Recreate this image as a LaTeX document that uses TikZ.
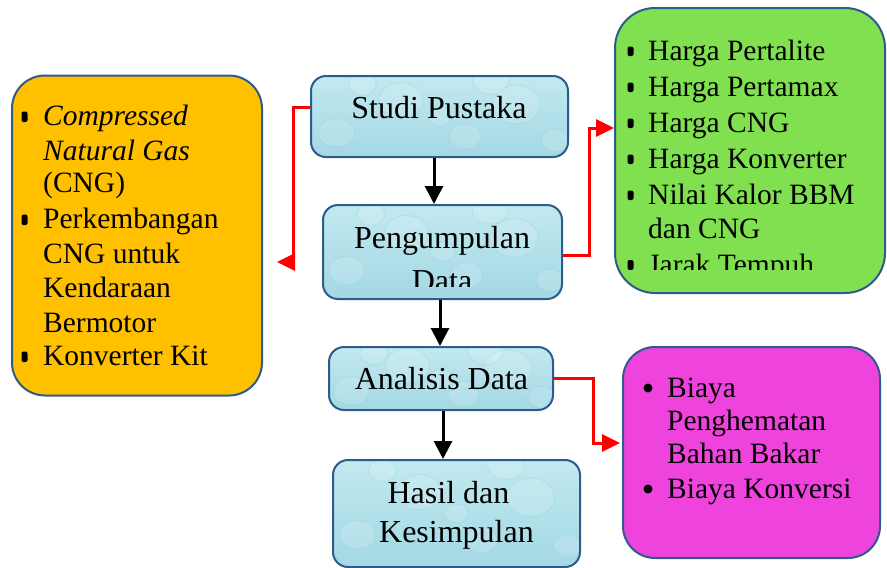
\documentclass[tikz,border=0pt]{standalone}
\usepackage{fontspec}
\setmainfont{Liberation Serif}
\usetikzlibrary{arrows.meta,calc}
\definecolor{bordc}{HTML}{2E5C8A}
\definecolor{orangef}{HTML}{FFC000}
\definecolor{greenf}{HTML}{80E050}
\definecolor{magf}{HTML}{EE44DD}
\definecolor{cyanA}{HTML}{C2E9F0}
\definecolor{cyanB}{HTML}{A3D8E4}
\definecolor{cyanD}{HTML}{8CCBDA}
\definecolor{redc}{HTML}{FF0000}
\begin{document}
\begin{tikzpicture}[x=1pt,y=-1pt,
  bubbles/.style={path picture={
    \foreach \fx/\fy/\r in {0.1/0.3/18, 0.35/0.7/22, 0.6/0.25/16, 0.8/0.65/24, 0.95/0.2/14, 0.2/0.9/14, 0.5/0.5/12, 0.7/0.95/18}{
      \fill[white, opacity=0.14] ($(path picture bounding box.south west)!\fx!(path picture bounding box.south east)!\fy!($(path picture bounding box.north west)!\fx!(path picture bounding box.north east)$)$) ellipse ({\r pt} and {0.8*\r pt});
      \draw[cyanD, opacity=0.22, line width=1.2pt] ($(path picture bounding box.south west)!\fx!(path picture bounding box.south east)!\fy!($(path picture bounding box.north west)!\fx!(path picture bounding box.north east)$)$) ellipse ({\r pt} and {0.8*\r pt});
    }}},
  stepbox/.style={draw=bordc, line width=2pt, rounded corners=15pt,
    top color=cyanA, bottom color=cyanB, inner sep=0pt, bubbles},
  listbox/.style={draw=bordc, line width=2pt, inner sep=0pt},
  txt/.style={font=\fontsize{29.5}{35}\selectfont, inner sep=0pt},
  stxt/.style={font=\fontsize{32}{38}\selectfont, inner sep=0pt},
  blk/.style={line width=3pt, draw=black, -{Triangle[length=18pt,width=18pt]}},
  redarr/.style={line width=3pt, draw=redc, -{Triangle[length=18pt,width=17pt]}},
  sqb/.style={fill=black, rounded corners=2pt},
]
\useasboundingbox (0,0) rectangle (887,568);

% list boxes
\node[listbox, fill=orangef, rounded corners=33pt, minimum width=250pt, minimum height=320pt] (left) at (137,235.5) {};
\node[listbox, fill=greenf, rounded corners=40pt, minimum width=270pt, minimum height=285pt] (green) at (750,150.5) {};
\node[listbox, fill=magf, rounded corners=32pt, minimum width=257pt, minimum height=211pt] (mag) at (751.5,452.5) {};

% step boxes
\node[stepbox, minimum width=257pt, minimum height=81pt] (studi) at (439.5,116.5) {};
\node[stepbox, minimum width=239pt, minimum height=94pt] (peng) at (442.5,252) {};
\node[stepbox, minimum width=224pt, minimum height=63pt] (anal) at (441,378.5) {};
\node[stepbox, minimum width=247pt, minimum height=107pt] (hasil) at (456.5,513.5) {};

% step texts
\node[stxt, anchor=base] (tstudi) at (439,118) {Studi Pustaka};
\node[stxt, anchor=base] (tpeng) at (442,248) {Pengumpulan};
\begin{scope}
  \clip (300,200) rectangle (600,286);
  \node[stxt, anchor=base] (tdata) at (442,291) {Data};
\end{scope}
\node[stxt, anchor=base] (tanal) at (441.5,389) {Analisis Data};
\node[stxt, anchor=base] (thasil1) at (448.5,503) {Hasil dan};
\node[stxt, anchor=base] (thasil2) at (456.5,542) {Kesimpulan};

% left list
\foreach \y in {125,228,365} {\fill[sqb] (21.5,\y-13.5) rectangle (27.5,\y-3);}
\node[txt, anchor=base west] (l1) at (43,125) {\textit{Compressed}};
\node[txt, anchor=base west] (l2) at (43,160) {\textit{Natural Gas}};
\node[txt, anchor=base west] (l3) at (43,192) {(CNG)};
\node[txt, anchor=base west] (l4) at (43,228) {Perkembangan};
\node[txt, anchor=base west] (l5) at (43,263) {CNG untuk};
\node[txt, anchor=base west] (l6) at (43,297) {Kendaraan};
\node[txt, anchor=base west] (l7) at (43,332) {Bermotor};
\node[txt, anchor=base west] (l8) at (43,365) {Konverter Kit};

% green list
\foreach \y in {60,96,132,168,204} {\fill[sqb] (627.5,\y-13.5) rectangle (633.5,\y-4);}
\node[txt, anchor=base west] (g1) at (648,60) {Harga Pertalite};
\node[txt, anchor=base west] (g2) at (648,96) {Harga Pertamax};
\node[txt, anchor=base west] (g3) at (648,132) {Harga CNG};
\node[txt, anchor=base west] (g4) at (648,168) {Harga Konverter};
\node[txt, anchor=base west] (g5) at (648,204) {Nilai Kalor BBM};
\node[txt, anchor=base west] (g6) at (648,238) {dan CNG};
\begin{scope}
  \clip (620,240) rectangle (880,269);
  \fill[sqb] (627.5,260) rectangle (633.5,270);
  \node[txt, anchor=base west] (g7) at (648,274) {Jarak Tempuh};
\end{scope}

% magenta list
\fill (648,388) circle (4.5pt);
\fill (648,489) circle (4.5pt);
\node[txt, anchor=base west] (m1) at (667,397) {Biaya};
\node[txt, anchor=base west] (m2) at (667,430) {Penghematan};
\node[txt, anchor=base west] (m3) at (667,463) {Bahan Bakar};
\node[txt, anchor=base west] (m4) at (667,498) {Biaya Konversi};

% black arrows
\draw[blk] ([xshift=-5.5pt]studi.south) -- ([xshift=-8.5pt]peng.north);
\draw[blk] ([xshift=-2.5pt]peng.south) -- ([xshift=-1pt]anal.north);
\draw[blk] ([xshift=2pt]anal.south) -- ([xshift=-13.5pt]hasil.north);

% red arrows
\coordinate (t1) at (277,262);
\draw[redarr] ([yshift=9.5pt]studi.west) -| ($(t1)+(16,0)$) -- (t1);
\draw[redarr] ([yshift=-3pt]peng.east) -- ++(26,0) |- ([yshift=22.5pt]green.west);
\draw[redarr, shorten >=2pt] (anal.east) -- ++(39,0) |- ([yshift=9.5pt]mag.west);
\end{tikzpicture}
\end{document}
